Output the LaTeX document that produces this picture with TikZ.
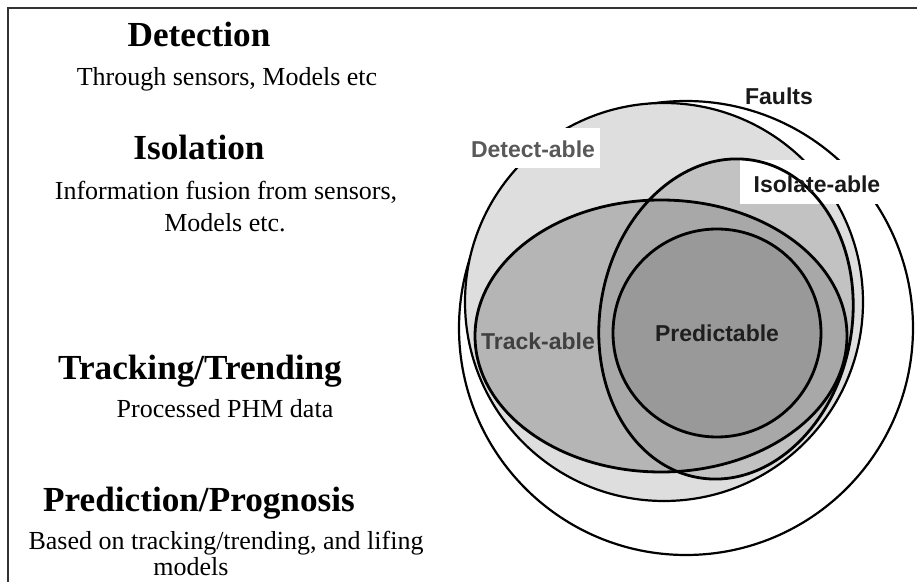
\documentclass[tikz,border=0pt]{standalone}
\usepackage{fontspec}
\setmainfont{Liberation Serif}
\newfontfamily\labelfont{Liberation Sans}
\begin{document}
\begin{tikzpicture}[x=0.5pt,y=-0.5pt,
  frame/.style={draw=black!80,line width=1.1pt},
  heading/.style={font=\bfseries\fontsize{17.6}{20}\selectfont,anchor=base,inner sep=0pt},
  body/.style={font=\fontsize{13}{16}\selectfont,anchor=base,inner sep=0pt},
  setlabel/.style={font=\labelfont\bfseries\fontsize{11.5}{13}\selectfont,anchor=base,inner sep=0pt},
  outline/.style={draw=black,line width=1.4pt},
  thinline/.style={draw=black,line width=1.1pt},
  whitebox/.style={fill=white,draw=none}]
\useasboundingbox (0,0) rectangle (917,582);
\fill[white] (0,0) rectangle (917,582);
% frame
\draw[frame] (8,582) -- (8,8) -- (917,8);
% Faults
\draw[thinline,fill=white] (686,328) circle[radius=227];
% Detect-able
\draw[thinline,fill=black!13] (664,302) circle[radius=199];
% Isolate-able fill
\fill[black!24] (726,319) ellipse[x radius=126,y radius=161,rotate=-10];
% Track-able fill
\fill[black!29] (661,336) ellipse[x radius=186,y radius=136];
% intersection
\begin{scope}
  \clip (726,319) ellipse[x radius=126,y radius=161,rotate=-10];
  \fill[black!34] (661,336) ellipse[x radius=186,y radius=136];
\end{scope}
% Predictable fill
\fill[black!40] (717,333) circle[radius=104];
% white label boxes
\fill[whitebox] (466,128) rectangle (600,168);
\fill[whitebox] (740,160) rectangle (886,204);
% outlines
\draw[outline] (661,336) ellipse[x radius=186,y radius=136];
\draw[outline] (726,319) ellipse[x radius=126,y radius=161,rotate=-10];
\draw[outline] (717,333) circle[radius=104];
% set labels
\node[setlabel,text=black!90] (faults) at (779,105) {Faults};
\node[setlabel,text=black!65] (detect) at (533,158) {Detect-able};
\node[setlabel,text=black!90] (isolate) at (817,193) {Isolate-able};
\node[setlabel,text=black!75] (track) at (538,350) {Track-able};
\node[setlabel,text=black!88] (predict) at (717,342) {Predictable};
% left texts
\node[heading] (h1) at (199,47) {Detection};
\node[body] (b1) at (227,86) {Through sensors, Models etc};
\node[heading] (h2) at (199,160) {Isolation};
\node[body] (b2a) at (226,200) {Information fusion from sensors,};
\node[body] (b2b) at (225,232) {Models etc.};
\node[heading] (h3) at (200,380) {Tracking/Trending};
\node[body] (b3) at (225,418) {Processed PHM data};
\node[heading] (h4) at (199,512) {Prediction/Prognosis};
\node[body] (b4a) at (226,550) {Based on tracking/trending, and lifing};
\node[body] (b4b) at (191,576) {models};
\end{tikzpicture}
\end{document}
